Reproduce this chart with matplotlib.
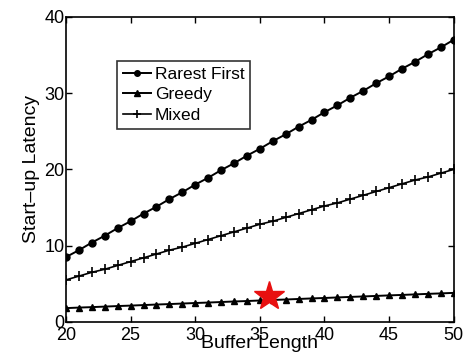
"""Start-up latency versus buffer length for three piece-selection policies."""

import matplotlib
matplotlib.use("Agg")
import matplotlib.pyplot as plt

plt.rcParams["font.family"] = ["Liberation Sans", "DejaVu Sans"]

buffer_length = list(range(20, 51))

rarest_first = [8.5, 9.4, 10.4, 11.3, 12.3, 13.2, 14.2, 15.1, 16.1, 17.0,
                18.0, 18.9, 19.9, 20.8, 21.8, 22.7, 23.7, 24.6, 25.6, 26.5,
                27.5, 28.4, 29.4, 30.3, 31.3, 32.2, 33.2, 34.1, 35.1, 36.0,
                37.0]
greedy = [1.8, 1.87, 1.93, 2.0, 2.07, 2.13, 2.2, 2.27, 2.33, 2.4,
          2.47, 2.53, 2.6, 2.67, 2.73, 2.8, 2.87, 2.93, 3.0, 3.07,
          3.13, 3.2, 3.27, 3.33, 3.4, 3.47, 3.53, 3.6, 3.67, 3.73,
          3.8]
mixed = [5.5, 6.0, 6.5, 6.9, 7.4, 7.9, 8.4, 8.9, 9.4, 9.8,
         10.3, 10.8, 11.3, 11.8, 12.3, 12.8, 13.2, 13.7, 14.2, 14.7,
         15.2, 15.6, 16.1, 16.6, 17.1, 17.6, 18.1, 18.6, 19.0, 19.5,
         20.0]

star_x = [35.7]
star_y = [3.4]

x_ticks = [20, 25, 30, 35, 40, 45, 50]
y_ticks = [0, 10, 20, 30, 40]

fig = plt.figure(figsize=(4.66, 3.6), dpi=100)
ax = fig.add_axes([0.1416, 0.106, 0.832, 0.847])

ax.plot(buffer_length, rarest_first, "k-", marker="o", markersize=5, lw=1.4,
        label="Rarest First")
ax.plot(buffer_length, greedy, "k-", marker="^", markersize=5, lw=1.4,
        label="Greedy")
ax.plot(buffer_length, mixed, "k-", marker="+", markersize=7, mew=1.2, lw=1.2,
        label="Mixed")
ax.plot(star_x, star_y, marker="*", color="#e81010", markersize=22,
        linestyle="none", zorder=5)

ax.set_xlim(20, 50)
ax.set_ylim(0, 40)
ax.set_xticks(x_ticks)
ax.set_yticks(y_ticks)
ax.tick_params(direction="in", top=True, right=True, length=4, width=1,
               labelsize=13, pad=1)
ax.tick_params(axis="x", pad=4)
for s in ax.spines.values():
    s.set_linewidth(1.2)

ax.set_xlabel("Buffer Length", fontsize=14, labelpad=-7)
ax.set_ylabel("Start\u2013up Latency", fontsize=14, labelpad=3)

leg = ax.legend(loc="upper left", bbox_to_anchor=(0.11, 0.885), fontsize=12.5,
                frameon=True, fancybox=False, edgecolor="black",
                handlelength=1.6, handletextpad=0.2, labelspacing=0.3,
                borderpad=0.35, markerscale=0.8)
leg.get_frame().set_linewidth(1.2)

fig.savefig("out.png", dpi=100)
